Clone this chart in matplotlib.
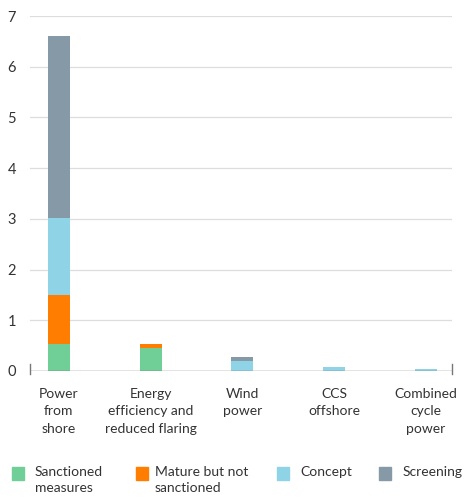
import matplotlib.pyplot as plt
import numpy as np
from matplotlib.patches import Rectangle

categories = ['Power\nfrom\nshore', 'Energy\nefficiency and\nreduced flaring',
              'Wind\npower', 'CCS\noffshore', 'Combined\ncycle\npower']
sanctioned = [0.53, 0.45, 0.0, 0.0, 0.0]
mature = [0.97, 0.08, 0.0, 0.0, 0.0]
concept = [1.52, 0.0, 0.20, 0.085, 0.04]
screening = [3.58, 0.0, 0.08, 0.0, 0.0]
series_names = ['Sanctioned\nmeasures', 'Mature but not\nsanctioned', 'Concept', 'Screening']
colors = ['#6fcf97', '#ff7d00', '#8fd3e6', '#8599a6']
yticks = [0, 1, 2, 3, 4, 5, 6, 7]

plt.rcParams['font.family'] = ['Lato', 'DejaVu Sans']
txt = '#333333'

fig = plt.figure(figsize=(4.65, 4.99), dpi=100)
ax = fig.add_axes([30 / 465, 1 - 371 / 499, 422 / 465, (371 - 16) / 499])

x = np.arange(len(categories))
bottom = np.zeros(len(categories))
for vals, c in zip([sanctioned, mature, concept, screening], colors):
    ax.bar(x, vals, width=0.24, bottom=bottom, color=c, zorder=3)
    bottom += np.array(vals)

ax.set_xlim(-0.315, 4.285)
ax.set_ylim(0, 7)
ax.set_yticks(yticks)
ax.set_yticklabels([str(t) for t in yticks], color=txt, fontsize=10.5)
ax.tick_params(axis='y', length=0, pad=10)
ax.set_xticks(x)
ax.set_xticklabels(categories, color=txt, fontsize=10, linespacing=1.55, va='top')
ax.tick_params(axis='x', length=0, pad=12)
for t in yticks[1:]:
    ax.axhline(t, color='#dddddd', lw=0.9, zorder=1)
for s in ax.spines.values():
    s.set_visible(False)
ax.axhline(0, color='#777777', lw=1, zorder=4)
ax.plot([-0.315, -0.315], [-0.06, 0.14], color='#777777', lw=1, clip_on=False, zorder=4)
ax.plot([4.285, 4.285], [-0.06, 0.14], color='#777777', lw=1, clip_on=False, zorder=4)

# legend, placed by hand in pixel coordinates
W, H = 465, 499
leg = [(12, 35), (136, 155), (277, 300), (379, 403)]
for (sx, tx), name, c in zip(leg, series_names, colors):
    fig.patches.append(Rectangle((sx / W, 1 - 480 / H), 12 / W, 13 / H,
                                 transform=fig.transFigure, color=c))
    fig.text(tx / W, 1 - 466 / H, name, color=txt, fontsize=10,
             va='top', ha='left', linespacing=1.35)

fig.savefig('out.png', dpi=100)
